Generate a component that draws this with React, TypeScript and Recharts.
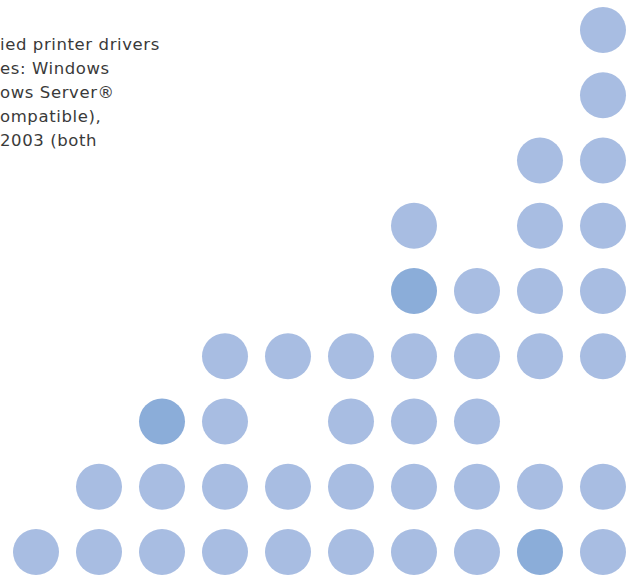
import React from "react";
import { ScatterChart, Scatter, XAxis, YAxis } from "recharts";

// which columns (1..10) hold a dot, for each row, bottom row first
const rowCols = [
  [1, 2, 3, 4, 5, 6, 7, 8, 9, 10],
  [2, 3, 4, 5, 6, 7, 8, 9, 10],
  [3, 4, 6, 7, 8],
  [4, 5, 6, 7, 8, 9, 10],
  [7, 8, 9, 10],
  [7, 9, 10],
  [9, 10],
  [10],
  [10],
];

// highlighted dots as [col, row]
const darkDots = [
  [9, 1],
  [3, 3],
  [7, 5],
];

const textLines = [
  "ied printer drivers",
  "es: Windows",
  "ows Server®",
  "ompatible),",
  "2003 (both",
];

const LIGHT = "#a8bde2";
const DARK = "#8badd9";

const points = rowCols.flatMap((cols, i) =>
  cols.map((c) => ({
    col: c,
    row: i + 1,
    dark: darkDots.some(([dc, dr]) => dc === c && dr === i + 1),
  }))
);

const Dot = (props: any) => {
  const { cx, cy, payload } = props;
  return <circle cx={cx} cy={cy} r={23} fill={payload.dark ? DARK : LIGHT} />;
};

export default function App() {
  return (
    <div style={{ position: "fixed", left: 0, top: 0, width: 636, height: 576, background: "#fff" }}>
      <ScatterChart width={636} height={576} margin={{ top: 0, right: 0, bottom: 0, left: 0 }}>
        <XAxis type="number" dataKey="col" domain={[0.4286, 10.524]} allowDataOverflow hide />
        <YAxis type="number" dataKey="row" domain={[0.632, 9.46]} allowDataOverflow hide />
        <Scatter data={points} shape={Dot} isAnimationActive={false} />
      </ScatterChart>
      <div
        style={{
          position: "absolute",
          left: 0,
          top: 33,
          fontFamily: "'DejaVu Sans', sans-serif",
          fontSize: 16.5,
          letterSpacing: 0.6,
          lineHeight: "24px",
          color: "#3a3a3a",
          whiteSpace: "pre",
        }}
      >
        {textLines.map((t) => (
          <div key={t}>{t}</div>
        ))}
      </div>
    </div>
  );
}
